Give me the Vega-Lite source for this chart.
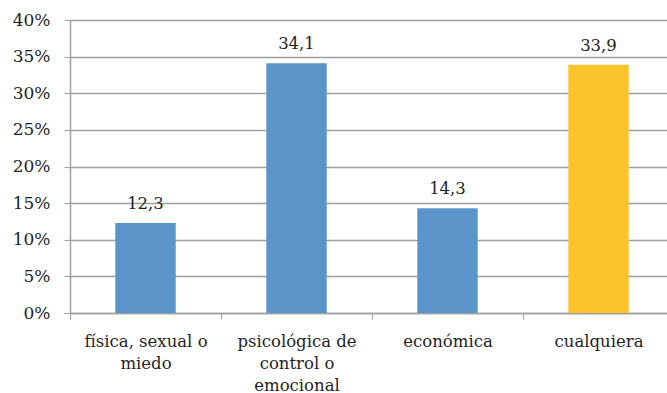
{
  "$schema": "https://vega.github.io/schema/vega-lite/v6.json",
  "width": 604,
  "height": 293,
  "autosize": {"type": "none"},
  "padding": {"left": 70, "top": 20, "right": 0, "bottom": 80},
  "background": "white",
  "config": {
    "view": {"stroke": null},
    "font": "DejaVu Serif",
    "locale": {"number": {"decimal": ",", "thousands": ".", "grouping": [3], "currency": ["", " €"]}}
  },
  "data": {
    "values": [
      {"tipo": "física, sexual o|miedo", "pct": 12.3, "grupo": "a"},
      {"tipo": "psicológica de|control o|emocional", "pct": 34.1, "grupo": "a"},
      {"tipo": "económica", "pct": 14.3, "grupo": "a"},
      {"tipo": "cualquiera", "pct": 33.9, "grupo": "b"}
    ]
  },
  "encoding": {
    "x": {
      "field": "tipo", "type": "nominal", "sort": null,
      "scale": {"paddingInner": 0, "paddingOuter": 0},
      "axis": {
        "title": null, "labelAngle": 0,
        "labelExpr": "split(datum.label, '|')",
        "labelFont": "DejaVu Serif", "labelFontSize": 16.5, "labelColor": "#1f1f1f",
        "labelLineHeight": 22, "labelPadding": 14,
        "tickBand": "extent", "tickSize": 6, "tickColor": "#A0A0A0",
        "domainColor": "#A0A0A0", "domainWidth": 1.5, "grid": false
      }
    },
    "y": {
      "field": "pct", "type": "quantitative",
      "scale": {"domain": [0, 40], "nice": false},
      "axis": {
        "title": null, "values": [0, 5, 10, 15, 20, 25, 30, 35, 40],
        "labelExpr": "datum.value + '%'",
        "labelFont": "DejaVu Serif", "labelFontSize": 17, "labelColor": "#1f1f1f",
        "labelPadding": 14, "tickSize": 6, "tickColor": "#A0A0A0",
        "domainColor": "#A0A0A0", "domainWidth": 1.5,
        "grid": true, "gridColor": "#A0A0A0", "gridWidth": 1.5
      }
    }
  },
  "layer": [
    {
      "mark": {"type": "bar", "width": {"band": 0.4}},
      "encoding": {
        "color": {
          "field": "grupo", "type": "nominal", "legend": null,
          "scale": {"domain": ["a", "b"], "range": ["#5B94C8", "#FCC42A"]}
        }
      }
    },
    {
      "mark": {"type": "text", "baseline": "bottom", "dy": -11, "fontSize": 16.5, "color": "#1f1f1f", "font": "DejaVu Serif"},
      "encoding": {
        "text": {"field": "pct", "type": "quantitative", "format": ".1f"}
      }
    }
  ]
}
